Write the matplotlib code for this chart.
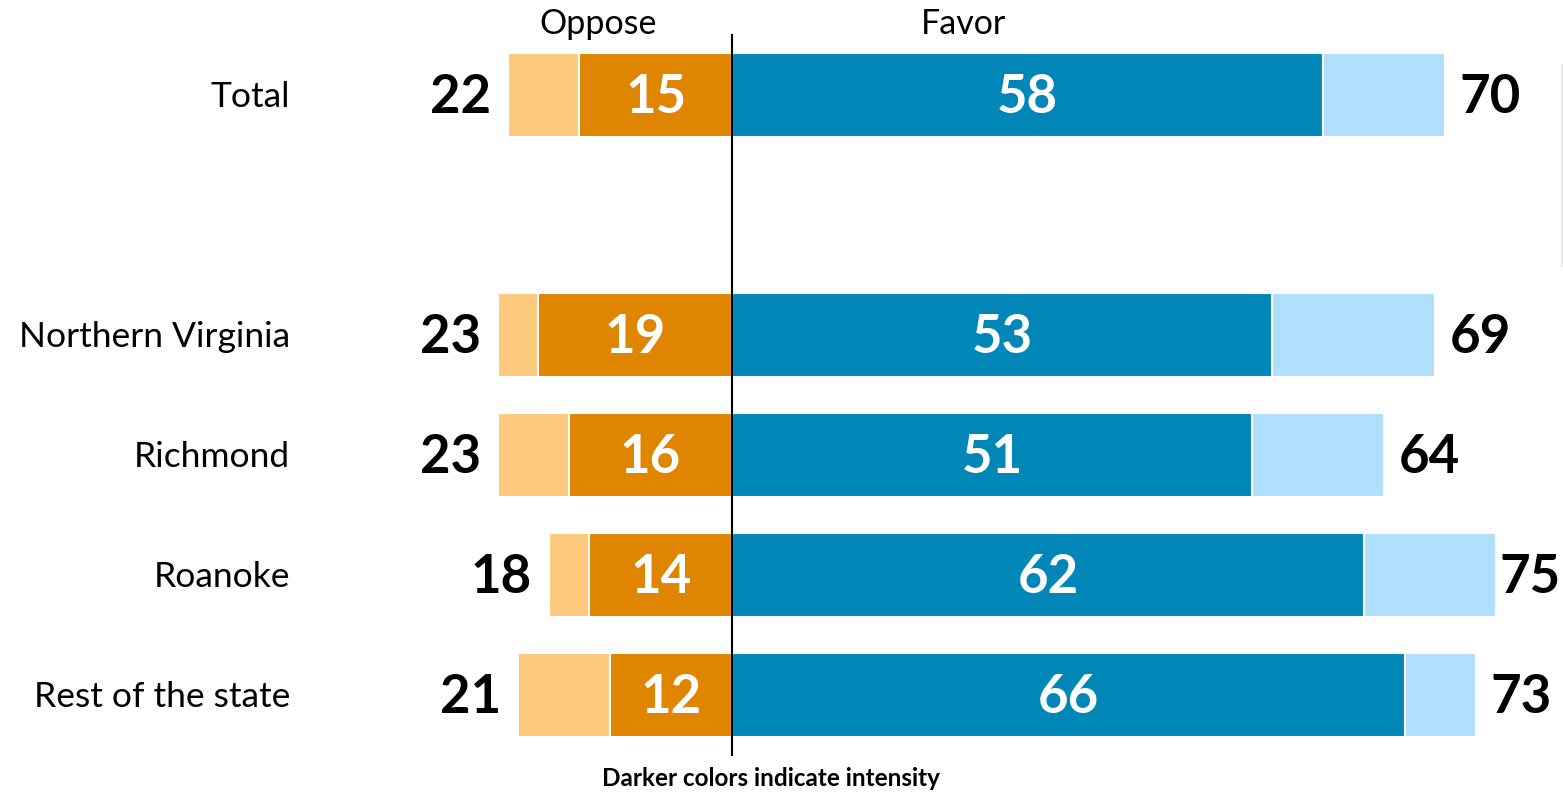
import numpy as np
import matplotlib
matplotlib.use('Agg')
import matplotlib.pyplot as plt

plt.rcParams['font.family'] = ['Lato', 'DejaVu Sans']

#-------------------------------------------------------------------------
categories = ['Total', 'Northern Virginia', 'Richmond', 'Roanoke', 'Rest of the state']
rows = [0, 2, 3, 4, 5]          # gap after Total

oppose_total = [22, 23, 23, 18, 21]
oppose_strong = [15, 19, 16, 14, 12]
favor_strong = [58, 53, 51, 62, 66]
favor_total = [70, 69, 64, 75, 73]

light_orange = '#FDC97C'
dark_orange = '#DF8500'
dark_blue = '#0086B7'
light_blue = '#B0DFFE'

#-------------------------------------------------------------------------
W, H = 1563, 793
fig = plt.figure(figsize=(W/100., H/100.), dpi=100)
ax = fig.add_axes([0, 0, 1, 1])

cx = 732.0      # pixel of zero line
ppu = 10.19     # pixels per percent
xmax = (W-cx)/ppu
ax.set_xlim(-cx/ppu, xmax)
y0 = 95.0       # pixel of first row
ppr = 120.0     # pixels per row
ax.set_ylim((H-y0)/ppr, -y0/ppr)
ax.axis('off')

bh = 0.70
ec = 'white'
lw = 1.5
nsize = 38
lsize = 25.5
numw = 6.2      # rough width of a two digit number, in percent units

for i, r in enumerate(rows):
  ax.barh(r, -oppose_total[i], height=bh, color=light_orange, edgecolor=ec, linewidth=lw)
  ax.barh(r, -oppose_strong[i], height=bh, color=dark_orange, edgecolor=ec, linewidth=lw)
  ax.barh(r, favor_total[i], height=bh, color=light_blue, edgecolor=ec, linewidth=lw)
  ax.barh(r, favor_strong[i], height=bh, color=dark_blue, edgecolor=ec, linewidth=lw)

  # values inside the bars
  ax.text(-oppose_strong[i]/2., r+0.02, '%d' % oppose_strong[i], ha='center', va='center',
          color='white', fontsize=nsize, fontweight='bold')
  ax.text(favor_strong[i]/2., r+0.02, '%d' % favor_strong[i], ha='center', va='center',
          color='white', fontsize=nsize, fontweight='bold')

  # totals outside
  ax.text(-oppose_total[i]-1.65, r+0.02, '%d' % oppose_total[i], ha='right', va='center',
          color='black', fontsize=nsize, fontweight='bold')
  xt = favor_total[i]+1.4
  if(xt + numw > xmax):
    xt = favor_total[i]+0.3
  ax.text(xt, r+0.02, '%d' % favor_total[i], ha='left', va='center',
          color='black', fontsize=nsize, fontweight='bold')

  # category label
  ax.text((290-cx)/ppu, r+0.02, categories[i], ha='right', va='center',
          color='black', fontsize=lsize)

# zero line
ax.plot([0, 0], [-0.5, 5.5], color='black', linewidth=1.5)

# faint line at the right edge
ax.plot([(W-1.5-cx)/ppu]*2, [(65-y0)/ppr, (265-y0)/ppr], color='#e6e6e6', linewidth=2)

# headers
ax.text((598-cx)/ppu, (24-y0)/ppr, 'Oppose', ha='center', va='center', fontsize=24.5)
ax.text((963-cx)/ppu, (24-y0)/ppr, 'Favor', ha='center', va='center', fontsize=24.5)

# footnote
ax.text((771-cx)/ppu, (779-y0)/ppr, 'Darker colors indicate intensity', ha='center',
        va='center', fontsize=17.5, fontweight='bold')

plt.savefig('out.png', dpi=100)
plt.close()
